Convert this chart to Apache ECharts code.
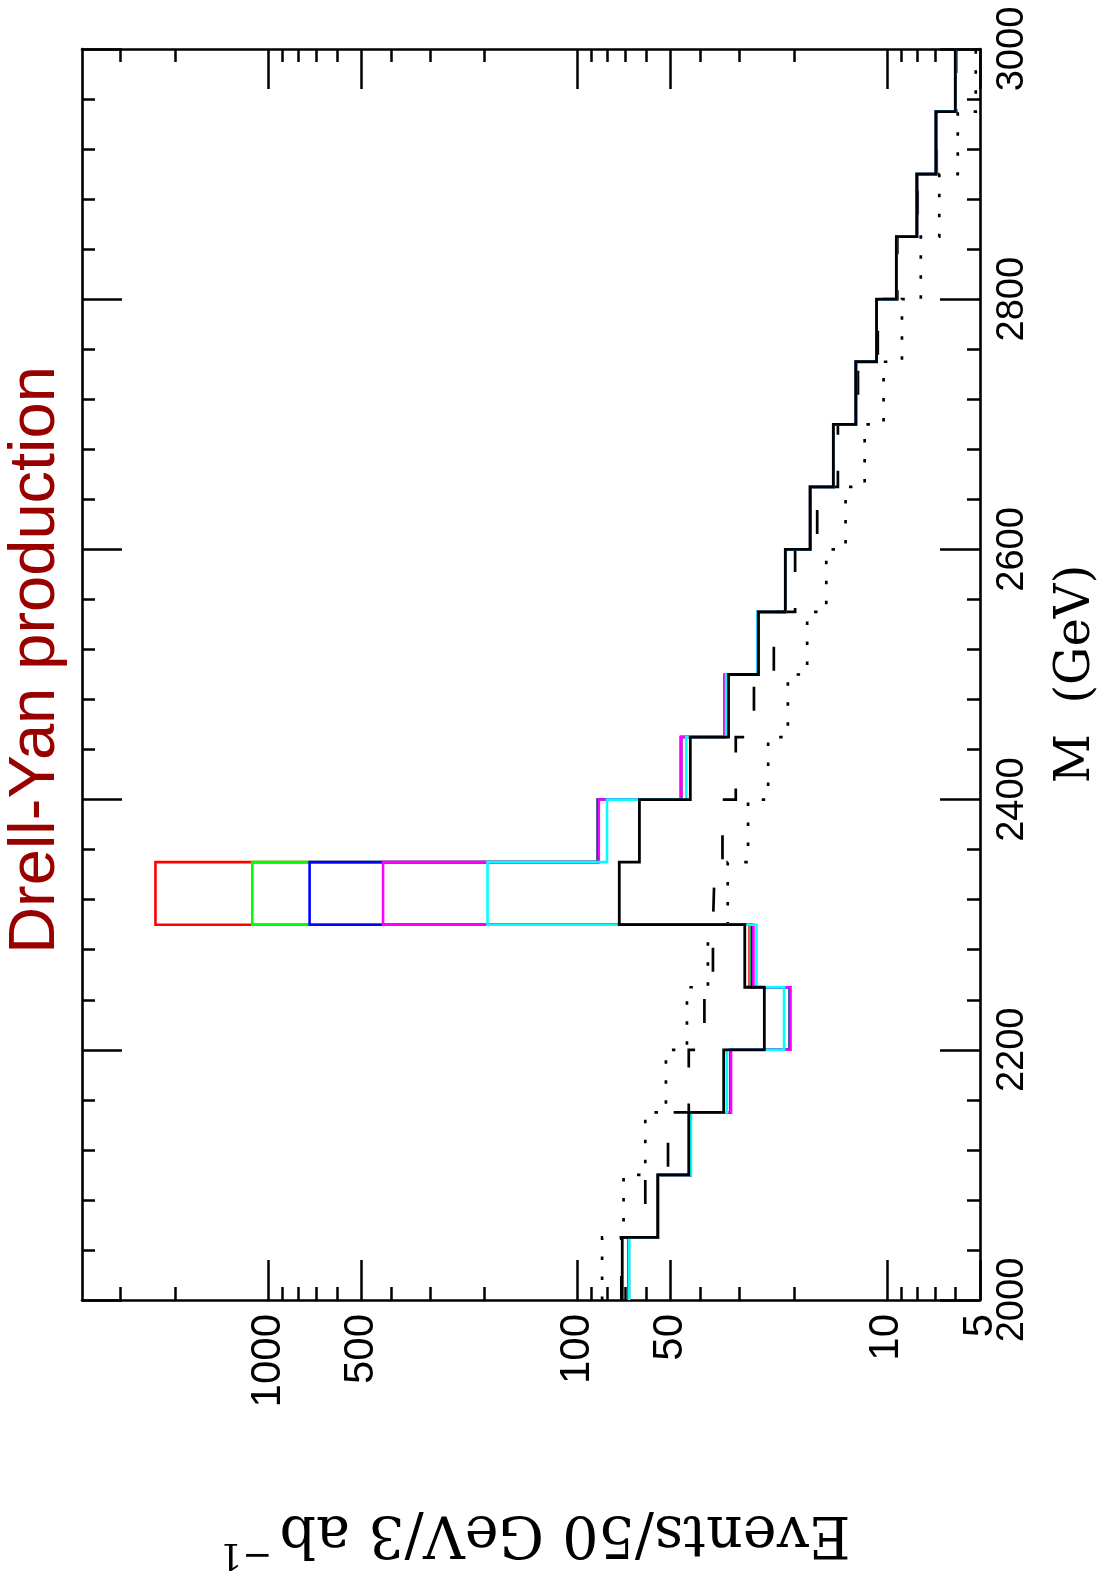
<!DOCTYPE html>
<html>
<head>
<meta charset="utf-8">
<title>Drell-Yan production</title>
<script src="https://cdn.jsdelivr.net/npm/echarts@6/dist/echarts.min.js"></script>
<style>
  html, body { margin: 0; padding: 0; background: #ffffff; }
  #chart { width: 1109px; height: 1585px; }
</style>
</head>
<body>
<div id="chart"></div>
<script>
// Invariant-mass bin edges (GeV), 50 GeV wide
const massEdges = [2000, 2050, 2100, 2150, 2200, 2250, 2300, 2350, 2400, 2450, 2500,
                   2550, 2600, 2650, 2700, 2750, 2800, 2850, 2900, 2950, 3000];

// Events per 50 GeV bin for 3 ab^-1
const eventsBlack   = [71.7, 55.1, 43.7, 33.7, 24.9, 28.8, 73.3, 63.1, 43.2, 32.5,
                       26.0, 21.3, 17.7, 14.9, 12.6, 10.8, 9.32, 8.0, 6.94, 6.01];
const eventsDashed  = [72.2, 60.4, 51.0, 43.7, 38.9, 36.5, 36.0, 34.0, 30.8, 26.9,
                       23.2, 19.8, 16.8, 14.4, 12.4, 10.7, 9.25, 7.95, 6.9, 5.97];
const eventsDotted  = [83.3, 71.0, 60.4, 51.8, 44.3, 37.9, 32.7, 28.1, 24.2, 20.9,
                       18.1, 15.7, 13.6, 11.8, 10.25, 8.94, 7.77, 6.77, 5.90, 5.16];
const eventsRed     = [68.3, 54.7, 43.1, 32.0, 20.6, 27.8, 2315, 86.0, 46.3, 33.4,
                       26.2, 21.3, 17.7, 14.9, 12.6, 10.8, 9.32, 8.0, 6.94, 6.01];
const eventsGreen   = [68.3, 54.7, 43.1, 32.0, 20.6, 27.6, 1126, 86.0, 46.3, 33.4,
                       26.2, 21.3, 17.7, 14.9, 12.6, 10.8, 9.32, 8.0, 6.94, 6.01];
const eventsBlue    = [68.3, 54.7, 43.1, 32.0, 20.6, 27.3, 735, 86.0, 46.3, 33.4,
                       26.2, 21.3, 17.7, 14.9, 12.6, 10.8, 9.32, 8.0, 6.94, 6.01];
const eventsMagenta = [68.3, 54.7, 43.1, 31.9, 20.5, 27.0, 425.4, 85.4, 46.2, 33.3,
                       26.2, 21.3, 17.7, 14.9, 12.6, 10.8, 9.32, 8.0, 6.94, 6.01];
const eventsCyan    = [68.1, 54.7, 43.0, 32.9, 21.5, 26.4, 195.4, 80.3, 44.5, 33.1,
                       26.2, 21.3, 17.7, 14.9, 12.6, 10.8, 9.32, 8.0, 6.94, 6.01];

// Tick positions on the event-count (log) axis
const eventMajorTicks = [5, 10, 50, 100, 500, 1000];
const eventMinorTicks = [6, 7, 8, 9, 20, 30, 40, 60, 70, 80, 90,
                         200, 300, 400, 600, 700, 800, 900, 2000, 3000];

// Turn bin contents into the outline of a histogram: (count, lowEdge), (count, highEdge)
function histPoints(values) {
  const pts = [];
  values.forEach(function (v, i) {
    pts.push([v, massEdges[i]]);
    pts.push([v, massEdges[i + 1]]);
  });
  return pts;
}

const INK = '#000000';

function eventAxis(position, ticks, tickLength, showLine, showLabels) {
  return {
    type: 'log',
    logBase: 10,
    min: 5,
    max: 4000,
    inverse: true,
    position: position,
    gridIndex: 0,
    axisLine: { show: showLine, onZero: false, lineStyle: { color: INK, width: 2.6 } },
    axisTick: {
      show: true, inside: true, length: tickLength, customValues: ticks,
      lineStyle: { color: INK, width: 2.5 }
    },
    axisLabel: showLabels ? {
      show: true, customValues: ticks, rotate: 90, margin: 14,
      fontSize: 42, fontFamily: 'Liberation Sans', color: INK,
      formatter: function (v) { return String(Math.round(v)); }
    } : { show: false },
    splitLine: { show: false },
    minorTick: { show: false },
    minorSplitLine: { show: false }
  };
}

function massAxis(position, showLabels) {
  return {
    type: 'value',
    min: 2000,
    max: 3000,
    interval: 200,
    position: position,
    gridIndex: 0,
    axisLine: { show: true, onZero: false, lineStyle: { color: INK, width: 2.6 } },
    axisTick: { show: true, inside: true, length: 40, lineStyle: { color: INK, width: 2.5 } },
    minorTick: { show: true, splitNumber: 5, length: 13, lineStyle: { color: INK, width: 2.5 } },
    axisLabel: showLabels ? {
      show: true, rotate: 90, margin: 14,
      fontSize: 38, fontFamily: 'Liberation Sans', color: INK,
      formatter: function (v) { return String(v); }
    } : { show: false },
    splitLine: { show: false },
    minorSplitLine: { show: false }
  };
}

function histSeries(name, values, color, width, dash) {
  return {
    name: name,
    type: 'line',
    xAxisIndex: 0,
    yAxisIndex: 0,
    data: histPoints(values),
    symbol: 'none',
    showSymbol: false,
    smooth: false,
    silent: true,
    clip: true,
    lineStyle: { color: color, width: width, type: dash || 'solid', cap: 'butt', join: 'miter' }
  };
}

const chart = echarts.init(document.getElementById('chart'), null, { renderer: 'canvas' });

chart.setOption({
  backgroundColor: '#ffffff',
  animation: false,
  grid: {
    left: 82, right: 129, top: 49, bottom: 285,
    containLabel: false,
    outerBoundsMode: 'none'
  },
  xAxis: [
    eventAxis('bottom', eventMajorTicks, 40, true, true),
    eventAxis('bottom', eventMinorTicks, 13, false, false),
    eventAxis('top', eventMajorTicks, 40, true, false),
    eventAxis('top', eventMinorTicks, 13, false, false)
  ],
  yAxis: [
    massAxis('right', true),
    massAxis('left', false)
  ],
  series: [
    histSeries('dotted', eventsDotted, INK, 2.7, [3.5, 16.5]),
    histSeries('dashed', eventsDashed, INK, 2.7, [24, 36]),
    histSeries('red', eventsRed, '#ff0000', 2.6),
    histSeries('green', eventsGreen, '#00ff00', 2.6),
    histSeries('blue', eventsBlue, '#0000ff', 2.6),
    histSeries('magenta', eventsMagenta, '#ff00ff', 2.6),
    histSeries('cyan', eventsCyan, '#00ffff', 2.6),
    histSeries('total', eventsBlack, INK, 2.8)
  ],
  graphic: [
    {
      type: 'text', x: 36, y: 660, rotation: Math.PI / 2, silent: true,
      style: {
        text: 'Drell-Yan production', fontSize: 65, fontFamily: 'Liberation Sans',
        fill: '#990000', align: 'center', verticalAlign: 'middle'
      }
    },
    {
      type: 'text', x: 1077, y: 674, rotation: Math.PI / 2, silent: true,
      style: {
        text: 'M  (GeV)', fontSize: 48, fontFamily: 'DejaVu Serif',
        fill: INK, align: 'center', verticalAlign: 'middle'
      }
    },
    {
      type: 'text', x: 565, y: 1532, rotation: Math.PI, silent: true,
      style: {
        text: 'Events/50 GeV/3 ab', fontSize: 57, fontFamily: 'DejaVu Serif',
        fill: INK, align: 'center', verticalAlign: 'middle'
      }
    },
    {
      type: 'text', x: 246, y: 1553, rotation: Math.PI, silent: true,
      style: {
        text: '\u22121', fontSize: 36, fontFamily: 'DejaVu Serif',
        fill: INK, align: 'center', verticalAlign: 'middle'
      }
    }
  ]
});
</script>
</body>
</html>
